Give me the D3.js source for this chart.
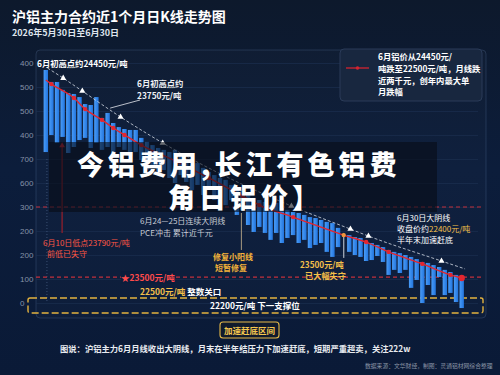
<!DOCTYPE html>
<html>
<head>
<meta charset="utf-8">
<script src="https://cdn.jsdelivr.net/npm/d3@7"></script>
<style>
html, body { margin: 0; padding: 0; background: #0b1a33; }
svg { display: block; font-family: "Noto Sans CJK SC", "Noto Sans", sans-serif; }
</style>
</head>
<body>
<div id="chart"></div>
<script>
// y tick labels, bottom to top (as printed on the chart)
var tickLabels = ["0", "100", "200", "200", "300", "600", "700", "400", "500", "500", "400"];

// daily bars: upper and lower edge of each body
var barHigh = [971, 921, 921, 888, 875, 871, 858, 829, 825, 858,
               771, 792, 750, 733, 725, 721, 721, 688, 671, 658,
               646, 638, 629, 638, 617, 596, 575, 583, 563, 546,
               533, 521, 513, 492, 479, 471, 450, 438, 429, 421,
               408, 417, 396, 388, 379, 375, 367, 358, 354, 346,
               338, 333, 313, 292, 283, 275, 271, 254, 250, 242,
               233, 221, 213, 208, 200, 192, 183, 171, 167, 158,
               150, 138, 129, 117, 108];
var barLow  = [629, 700, 667, 692, 625, 650, 679, 688, 646, 667,
               638, 650, 625, 650, 638, 613, 629, 596, 554, 575,
               533, 554, 521, 500, 533, 504, 471, 492, 450, 479,
               429, 438, 408, 429, 367, 388, 325, 296, 317, 292,
               263, 292, 250, 271, 283, 250, 263, 229, 242, 250,
               213, 192, 233, 188, 213, 200, 192, 175, 179, 196,
               171, 117, 138, 125, 138, 63, 96, 0, 75, 33,
               108, 33, 42, 4, -21];
var grayBar = 53;

// red average line
var maIdx = [0, 1, 5, 7, 10, 12, 14, 17, 23, 29, 35, 38, 44, 53, 57, 61, 67, 72, 74];
var maVal = [929, 912, 854, 808, 763, 729, 700, 658, 592, 521, 446, 408, 358, 283, 254, 213, 163, 117, 104];

// white dashed trend line
var trendIdx = [0.3, 3.1, 6.5, 13.3, 20.8, 43.7, 54.2, 57.4, 70.4, 74.6];
var trendVal = [979, 937, 883, 775, 667, 404, 308, 279, 175, 142];
var trendMarks = [1, 2, 3, 4, 5, 6, 7, 8];

// horizontal reference levels
var redLevels = [400, 108];

var W = 500, H = 375;

var x = d3.scaleLinear().domain([0, 74]).range([45.8, 461.7]);
var y = d3.scaleLinear().domain([0, 1000]).range([303, 63]);

var svg = d3.select("#chart").append("svg")
        .attr("width", W)
        .attr("height", H);

var defs = svg.append("defs");
var bg = defs.append("linearGradient").attr("id", "bg")
        .attr("x1", 0).attr("y1", 0).attr("x2", 0).attr("y2", 1);
bg.append("stop").attr("offset", "0%").attr("stop-color", "#0d192c");
bg.append("stop").attr("offset", "45%").attr("stop-color", "#0c1d3b");
bg.append("stop").attr("offset", "100%").attr("stop-color", "#0a1a37");

var barGrad = defs.append("linearGradient").attr("id", "barGrad")
        .attr("x1", 0).attr("y1", 0).attr("x2", 1).attr("y2", 0);
barGrad.append("stop").attr("offset", "0%").attr("stop-color", "#4a9cf7");
barGrad.append("stop").attr("offset", "100%").attr("stop-color", "#2275de");

svg.append("rect")
        .attr("width", W).attr("height", H)
        .attr("fill", "url(#bg)");

// title
svg.append("text")
        .attr("x", 12).attr("y", 22)
        .attr("fill", "#ffffff")
        .style("font-size", "14px")
        .style("font-weight", "bold")
        .text("沪铝主力合约近1个月日K线走势图");

svg.append("text")
        .attr("x", 12).attr("y", 36)
        .attr("fill", "#dfe4ec")
        .style("font-size", "9px")
        .style("font-weight", "bold")
        .text("2026年5月30日至6月30日");

// panel
svg.append("rect")
        .attr("x", 36).attr("y", 50)
        .attr("width", 450).attr("height", 268)
        .attr("rx", 4)
        .attr("fill", "rgba(255,255,255,0.015)")
        .attr("stroke", "rgba(140,170,220,0.18)");

// grid + y axis
var grid = d3.axisLeft(y)
        .tickValues(d3.range(0, 1001, 100))
        .tickSize(-(478 - 36))
        .tickFormat("");

svg.append("g")
        .attr("class", "grid")
        .attr("transform", "translate(36,0)")
        .call(grid)
        .call(function (g) { g.select(".domain").remove(); })
        .selectAll("line")
        .attr("stroke", "#1d3152")
        .attr("stroke-width", 0.6);

var yAxis = d3.axisLeft(y)
        .tickValues(d3.range(0, 1001, 100))
        .tickSize(0)
        .tickFormat(function (d, i) { return tickLabels[i]; });

svg.append("g")
        .attr("class", "y axis")
        .attr("transform", "translate(34,0)")
        .call(yAxis)
        .call(function (g) { g.select(".domain").remove(); })
        .selectAll("text")
        .attr("x", -14)
        .style("text-anchor", "start")
        .attr("fill", "#8592a8")
        .style("font-size", "8px");

// faint vertical dotted line at the start
svg.append("line")
        .attr("x1", x(0.2)).attr("x2", x(0.2))
        .attr("y1", y(600)).attr("y2", y(0))
        .attr("stroke", "#3a4f72")
        .attr("stroke-dasharray", "1,2");

// red dashed levels
svg.append("g").selectAll("line")
        .data(redLevels)
        .join("line")
        .attr("x1", 36).attr("x2", 482)
        .attr("y1", function (d) { return y(d); })
        .attr("y2", function (d) { return y(d); })
        .attr("stroke", "#c2303d")
        .attr("stroke-width", 1.1)
        .attr("stroke-dasharray", "4,3");

// yellow support box
svg.append("rect")
        .attr("x", 28).attr("y", 298)
        .attr("width", 455).attr("height", 15)
        .attr("rx", 2)
        .attr("fill", "none")
        .attr("stroke", "#e2b23f")
        .attr("stroke-width", 1.4)
        .attr("stroke-dasharray", "7,3");

// bars
var bars = d3.range(barHigh.length);
svg.append("g").attr("class", "bars")
        .selectAll("rect")
        .data(bars.filter(function (i) { return i !== grayBar; }))
        .join("rect")
        .attr("x", function (i) { return x(i) - 2.2; })
        .attr("width", 4.4)
        .attr("y", function (i) { return y(barHigh[i]); })
        .attr("height", function (i) { return y(barLow[i]) - y(barHigh[i]); })
        .attr("fill", "url(#barGrad)");

svg.append("line")
        .attr("x1", x(grayBar)).attr("x2", x(grayBar))
        .attr("y1", y(barHigh[grayBar])).attr("y2", y(barLow[grayBar]))
        .attr("stroke", "#9aa3b1")
        .attr("stroke-width", 1.4);

// red pointer to the 6/10 low
svg.append("line")
        .attr("x1", x(2.9)).attr("x2", x(2.9))
        .attr("y1", y(660)).attr("y2", y(292))
        .attr("stroke", "#9c1f2b")
        .attr("stroke-width", 1.2);
svg.append("path")
        .attr("d", d3.symbol(d3.symbolTriangle, 14)())
        .attr("transform", "translate(" + x(2.9) + "," + (y(660) + 1) + ")")
        .attr("fill", "#c0283a");

// white dashed trend line
var trendLine = d3.line()
        .x(function (d) { return x(trendIdx[d]); })
        .y(function (d) { return y(trendVal[d]); })
        .curve(d3.curveMonotoneX);

svg.append("path")
        .datum(d3.range(trendIdx.length))
        .attr("d", trendLine)
        .attr("fill", "none")
        .attr("stroke", "#d4dae4")
        .attr("stroke-width", 0.8)
        .attr("stroke-dasharray", "3,2");

svg.append("g").selectAll("path")
        .data(trendMarks)
        .join("path")
        .attr("d", d3.symbol(d3.symbolTriangle, 16)())
        .attr("transform", function (d) { return "translate(" + x(trendIdx[d]) + "," + y(trendVal[d]) + ")"; })
        .attr("fill", "#ffffff");

// red average line
var maLine = d3.line()
        .x(function (d) { return x(maIdx[d]); })
        .y(function (d) { return y(maVal[d]); })
        .curve(d3.curveMonotoneX);

svg.append("path")
        .datum(d3.range(maIdx.length))
        .attr("d", maLine)
        .attr("fill", "none")
        .attr("stroke", "#e3262f")
        .attr("stroke-width", 1.4);

svg.append("g").selectAll("circle")
        .data(d3.range(1, maIdx.length))
        .join("circle")
        .attr("cx", function (d) { return x(maIdx[d]); })
        .attr("cy", function (d) { return y(maVal[d]); })
        .attr("r", function (d) { return d === maIdx.length - 1 ? 3.2 : 2.2; })
        .attr("fill", function (d) { return maIdx[d] === grayBar ? "#f0963a" : "#e3262f"; });

// gray pointer for the small up bar
svg.append("line")
        .attr("x1", x(34.8)).attr("x2", x(34.8))
        .attr("y1", y(375)).attr("y2", y(221))
        .attr("stroke", "#b8a888")
        .attr("stroke-width", 0.9);

// annotation arrow to 23750
svg.append("line")
        .attr("x1", 140).attr("y1", 100)
        .attr("x2", x(11.1) + 2).attr("y2", y(808) - 1)
        .attr("stroke", "#e6e9ef")
        .attr("stroke-width", 0.8);

function label(tx, ty, str, color, size, weight) {
    return svg.append("text")
            .attr("x", tx).attr("y", ty)
            .attr("fill", color)
            .style("font-size", size + "px")
            .style("font-weight", weight || "normal")
            .text(str);
}

label(37, 67, "6月初高点约24450元/吨", "#ffffff", 8.3, "bold");
label(137, 87, "6月初高点约", "#eef0f4", 8.3, "bold");
label(137, 99, "23750元/吨", "#eef0f4", 8.3, "bold");

// dark overlay band with the big text
svg.append("rect")
        .attr("x", 49).attr("y", 142)
        .attr("width", 388).attr("height", 70)
        .attr("fill", "#070b15")
        .attr("opacity", 0.6);

label(77, 175, "今铝费用,长江有色铝费", "#ffffff", 27, 900)
        .style("letter-spacing", "4px");
label(168, 208, "角日铝价】", "#ffffff", 27, 900)
        .style("letter-spacing", "4px");

label(140, 224, "6月24—25日连续大阴线", "#c8cdd6", 8);
label(140, 236, "PCE冲击 累计近千元", "#c8cdd6", 8);

label(43, 246, "6月10日低点23790元/吨", "#ff5744", 8);
label(47, 257, "前低已失守", "#ff5744", 8);

label(213, 260, "修复小阳线", "#f3b23a", 8, "bold");
label(215, 271, "短暂修复", "#f3b23a", 8, "bold");

label(300, 268, "23500元/吨", "#f5c04a", 8.2, "bold");
label(305, 279, "已大幅失守", "#f5c04a", 8.2, "bold");

var t1 = svg.append("text").attr("x", 397).attr("y", 221)
        .attr("fill", "#ffffff").style("font-size", "8px");
t1.text("6月30日大阴线");
var t2 = svg.append("text").attr("x", 397).attr("y", 232)
        .attr("fill", "#ffffff").style("font-size", "8px");
t2.append("tspan").text("收盘价约");
t2.append("tspan").attr("fill", "#f5c04a").text("22400元/吨");
label(397, 243, "半年末加速赶底", "#ffffff", 8);

// 23500 star label sitting on the dashed line
svg.append("rect")
        .attr("x", 121).attr("y", y(108) - 6)
        .attr("width", 54).attr("height", 12)
        .attr("fill", "#0b1d3b");
label(121, y(108) + 3.5, "★23500元/吨", "#ff4b4b", 8.5, "bold");

var t3 = svg.append("text").attr("x", 140).attr("y", 295)
        .style("font-size", "8.5px").style("font-weight", "bold");
t3.append("tspan").attr("fill", "#f5c04a").text("22500元/吨");
t3.append("tspan").attr("fill", "#ffffff").text(" 整数关口");

label(210, 309, "22200元/吨  下一支撑位", "#ffffff", 8.5, "bold");

// button
svg.append("rect")
        .attr("x", 220).attr("y", 322)
        .attr("width", 59).attr("height", 16)
        .attr("rx", 3)
        .attr("fill", "#101a2c")
        .attr("stroke", "#e5b848")
        .attr("stroke-width", 1.1);
label(224, 333.5, "加速赶底区间", "#f4c64f", 8.5, "bold");

label(60, 352, "图说：沪铝主力6月月线收出大阴线，月末在半年结压力下加速赶底，短期严重超卖，关注222w", "#e8ebf0", 8.3, "bold");
label(365, 368, "数据来源：文华财经，制图：灵通铝材网综合整理", "#8b95a6", 5.8);

// legend box
svg.append("rect")
        .attr("x", 340).attr("y", 49)
        .attr("width", 142).attr("height", 52)
        .attr("rx", 4)
        .attr("fill", "#18273f")
        .attr("stroke", "#2a3b58");
svg.append("line")
        .attr("x1", 346).attr("x2", 369)
        .attr("y1", 68).attr("y2", 68)
        .attr("stroke", "#d32430")
        .attr("stroke-width", 1.3);
svg.append("circle")
        .attr("cx", 357.5).attr("cy", 68).attr("r", 1.8)
        .attr("fill", "#d32430");
label(378, 60, "6月铝价从24450元/", "#ffffff", 8.3, "bold");
label(378, 72, "吨跌至22500元/吨，月线跌", "#ffffff", 8.3, "bold");
label(378, 84, "近两千元，创年内最大单", "#ffffff", 8.3, "bold");
label(378, 95, "月跌幅", "#ffffff", 8.3, "bold");
</script>
</body>
</html>
